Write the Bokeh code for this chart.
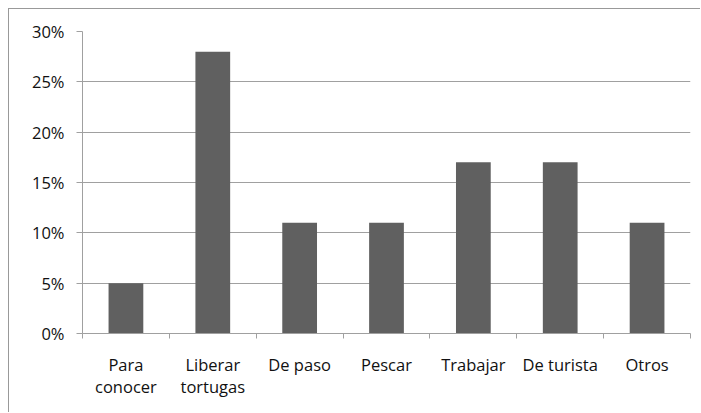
from bokeh.plotting import figure
from bokeh.models import Range1d, LinearAxis, FixedTicker, NumeralTickFormatter
from bokeh.embed import file_html
from bokeh.resources import INLINE

categories = ["Para conocer", "Liberar tortugas", "De paso", "Pescar", "Trabajar", "De turista", "Otros"]
labels = ["Para\nconocer", "Liberar\ntortugas", "De paso", "Pescar", "Trabajar", "De turista", "Otros"]
values = [0.05, 0.28, 0.11, 0.11, 0.17, 0.17, 0.11]
y_ticks = [0, 0.05, 0.10, 0.15, 0.20, 0.25, 0.30]

FONT = "Open Sans"
FSIZE = "16.5px"
GRAY = "#a0a0a0"
TEXT = "#111111"

n = len(categories)
centers = [i + 0.5 for i in range(n)]
bounds = list(range(n + 1))

p = figure(width=692, height=404, x_range=Range1d(0, n), y_range=Range1d(0, 0.30),
           output_backend="svg", toolbar_location=None, x_axis_location=None)
p.min_border_left = 73
p.min_border_top = 22
p.min_border_right = 11
p.min_border_bottom = 80
p.outline_line_color = None
p.background_fill_color = "white"
p.border_fill_color = "white"
p.styles = {"border-left": "1px solid #999999", "border-top": "1px solid #999999",
            "margin-left": "8px", "margin-top": "8px"}

p.vbar(x=centers, top=values, width=0.4, fill_color="#606060", line_color=None)

# y axis
ya = p.yaxis[0]
ya.ticker = FixedTicker(ticks=y_ticks)
ya.formatter = NumeralTickFormatter(format="0%")
ya.axis_line_color = GRAY
ya.major_tick_line_color = GRAY
ya.major_tick_in = 0
ya.major_tick_out = 6
ya.minor_tick_line_color = None
ya.major_label_text_font = FONT
ya.major_label_text_font_size = FSIZE
ya.major_label_text_color = TEXT
ya.major_label_standoff = 12

p.xgrid.grid_line_color = None
p.ygrid.ticker = FixedTicker(ticks=y_ticks)
p.ygrid.grid_line_color = GRAY
p.ygrid.grid_line_width = 1

# boundary tick axis
ta = LinearAxis(ticker=FixedTicker(ticks=bounds))
ta.axis_line_color = GRAY
ta.major_tick_line_color = GRAY
ta.major_tick_in = 0
ta.major_tick_out = 5
ta.minor_tick_line_color = None
ta.major_label_text_font_size = "0px"
ta.major_label_text_color = None
ta.major_label_standoff = 0
p.add_layout(ta, "below")

# category labels axis
ca = LinearAxis(ticker=FixedTicker(ticks=centers),
                major_label_overrides=dict(zip(centers, labels)))
ca.axis_line_color = None
ca.major_tick_line_color = None
ca.minor_tick_line_color = None
ca.major_label_text_font = FONT
ca.major_label_text_font_size = FSIZE
ca.major_label_text_color = TEXT
ca.major_label_text_line_height = 0.98
ca.major_label_standoff = 8
p.add_layout(ca, "below")

open("out.html", "w").write(file_html(p, INLINE))
